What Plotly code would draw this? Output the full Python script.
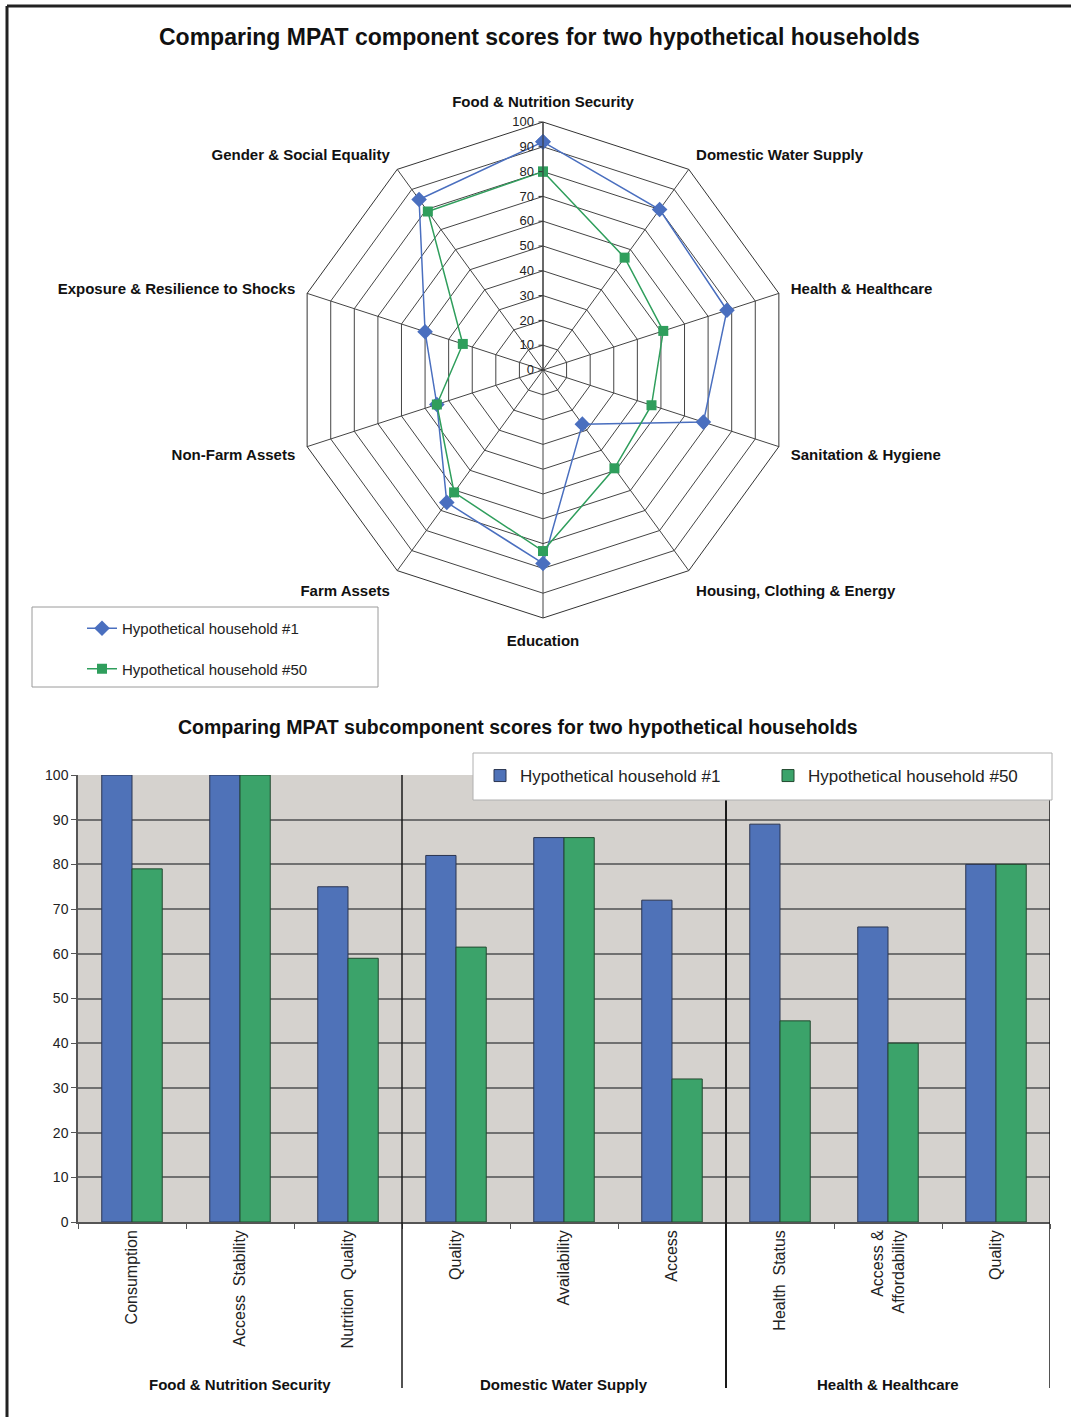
import plotly.graph_objects as go

W, H = 1071, 1417

# ---------------- Data ----------------
radar_axes = ["Food & Nutrition Security", "Domestic Water Supply", "Health & Healthcare",
              "Sanitation & Hygiene", "Housing, Clothing & Energy", "Education",
              "Farm Assets", "Non-Farm Assets", "Exposure & Resilience to Shocks",
              "Gender & Social Equality"]
radar_hh1 = [92, 80, 78, 68, 27, 78, 66, 45, 50, 85]
radar_hh50 = [80, 56, 51, 46, 49, 73, 61, 45, 34, 79]

sub_labels = ["Consumption", "Access  Stability", "Nutrition  Quality",
              "Quality", "Availability", "Access",
              "Health  Status", "Access &<br>Affordability", "Quality"]
bar_hh1 = [100, 100, 75, 82, 86, 72, 89, 66, 80]
bar_hh50 = [79, 100, 59, 61.5, 86, 32, 45, 40, 80]
group_names = ["Food & Nutrition Security", "Domestic Water Supply", "Health & Healthcare"]
group_centers = [1, 4, 7]
group_bounds = [2.5, 5.5, 8.5]
radial_ticks = list(range(0, 101, 10))
y_ticks = list(range(0, 101, 10))

series_names = ["Hypothetical household #1", "Hypothetical household #50"]
BLUE = "#4a6fbf"
GREEN = "#2f9e5c"
BAR_BLUE = "#4f72b8"
BAR_GREEN = "#3ba36a"
FONT = "Liberation Sans, Arial, sans-serif"


def px(x):
    return x / W


def py(y):
    return 1 - y / H


fig = go.Figure()

# ---------------- Radar ----------------
fig.add_trace(go.Scatterpolar(
    r=radar_hh1 + radar_hh1[:1], theta=radar_axes + radar_axes[:1],
    mode="lines+markers", name=series_names[0],
    line=dict(color=BLUE, width=1.5),
    marker=dict(symbol="diamond", size=12, color=BLUE),
    legend="legend", legendgroup="a"))
fig.add_trace(go.Scatterpolar(
    r=radar_hh50 + radar_hh50[:1], theta=radar_axes + radar_axes[:1],
    mode="lines+markers", name=series_names[1],
    line=dict(color=GREEN, width=1.5),
    marker=dict(symbol="square", size=10, color=GREEN),
    legend="legend", legendgroup="b"))

# ---------------- Bars ----------------
xs = list(range(len(sub_labels)))
fig.add_trace(go.Bar(x=xs, y=bar_hh1, name=series_names[0], marker=dict(color=BAR_BLUE, line=dict(color="#2b3550", width=1)),
                     legend="legend2", xaxis="x", yaxis="y"))
fig.add_trace(go.Bar(x=xs, y=bar_hh50, name=series_names[1], marker=dict(color=BAR_GREEN, line=dict(color="#234a30", width=1)),
                     legend="legend2", xaxis="x", yaxis="y"))

shapes = []
# page border (top and left)
shapes.append(dict(type="line", xref="paper", yref="paper", x0=px(7), x1=1.0, y0=py(6), y1=py(6),
                   line=dict(color="#222", width=3)))
shapes.append(dict(type="line", xref="paper", yref="paper", x0=px(7), x1=px(7), y0=py(6), y1=0,
                   line=dict(color="#222", width=3)))
# radar legend box
shapes.append(dict(type="rect", xref="paper", yref="paper", x0=px(32), x1=px(378), y0=py(687), y1=py(607),
                   line=dict(color="#9a9a9a", width=1), fillcolor="white", layer="below"))
# group separators
for i, b in enumerate(group_bounds):
    shapes.append(dict(type="line", xref="x", yref="paper", x0=b, x1=b, y0=py(1388), y1=py(775),
                       line=dict(color="#1a1a1a", width=2 if i == 1 else 1.5), layer="above"))
# bar legend box
shapes.append(dict(type="rect", xref="paper", yref="paper", x0=px(473), x1=px(1052), y0=py(800), y1=py(753),
                   line=dict(color="#b0b0b0", width=1), fillcolor="white", layer="above"))

annotations = [
    dict(text="<b>Comparing MPAT component scores for two hypothetical households</b>", xref="paper", yref="paper",
         x=px(539), y=py(37), yanchor="middle", showarrow=False, font=dict(size=23, color="#111", family=FONT)),
    dict(text="<b>Comparing MPAT subcomponent scores for two hypothetical households</b>", xref="paper", yref="paper",
         x=px(518), y=py(727), yanchor="middle", showarrow=False, font=dict(size=19.5, color="#111", family=FONT)),
]
for name, c in zip(group_names, group_centers):
    annotations.append(dict(text="<b>" + name + "</b>", xref="x", yref="paper", x=c, y=py(1384), yanchor="middle",
                            showarrow=False, font=dict(size=15, color="#111", family=FONT)))

fig.update_layout(
    width=W, height=H,
    margin=dict(l=0, r=0, t=0, b=0, autoexpand=False),
    paper_bgcolor="white",
    font=dict(family=FONT, color="#111"),
    showlegend=True,
    barmode="group", bargap=0.44, bargroupgap=0,
    polar=dict(
        domain=dict(x=[px(295), px(791)], y=[py(618), py(122)]),
        bgcolor="white",
        gridshape="linear",
        angularaxis=dict(rotation=90, direction="clockwise", showline=True, linecolor="#333", linewidth=1,
                         gridcolor="#444", gridwidth=1, ticks="outside", ticklen=9,
                         tickcolor="rgba(0,0,0,0)",
                         tickfont=dict(size=15, family=FONT, color="#111", weight="bold")),
        radialaxis=dict(range=[0, 100], tickvals=radial_ticks, angle=90, tickangle=90,
                        showline=True, linecolor="#333", linewidth=1, gridcolor="#444", gridwidth=1,
                        ticks="outside", ticklen=4, tickcolor="#333", side="counterclockwise",
                        tickfont=dict(size=13, family=FONT, color="#222")),
    ),
    xaxis=dict(domain=[px(78), px(1050)], range=[-0.5, 8.5], tickvals=xs, ticktext=sub_labels,
               tickangle=-90, ticks="", showline=True, linecolor="#555", linewidth=1.5,
               showgrid=False, zeroline=False, automargin=False,
               tickfont=dict(size=16, family=FONT, color="#222"),
               minor=dict(tickmode="array", tickvals=[i - 0.5 for i in range(10)], ticks="outside",
                          ticklen=5, tickcolor="#555", showgrid=False),
               anchor="y"),
    yaxis=dict(domain=[py(1222), py(775)], range=[0, 100], tickvals=y_ticks, ticks="outside", ticklen=5,
               tickcolor="#555", showline=True, linecolor="#555", linewidth=1.5,
               gridcolor="#707070", gridwidth=1.5, zeroline=False, automargin=False,
               tickfont=dict(size=14, family=FONT, color="#222"), anchor="x"),
    plot_bgcolor="#d5d2ce",
    legend=dict(x=px(82), y=py(612), xanchor="left", yanchor="top", orientation="v",
                bgcolor="rgba(0,0,0,0)", borderwidth=0, tracegroupgap=18,
                font=dict(size=15, family=FONT, color="#222")),
    legend2=dict(x=px(480), y=py(776), xanchor="left", yanchor="middle", orientation="h",
                 bgcolor="rgba(0,0,0,0)", borderwidth=0, entrywidth=243, entrywidthmode="pixels",
                 itemwidth=30,
                 font=dict(size=17, family=FONT, color="#222")),
    shapes=shapes,
    annotations=annotations,
)

fig.write_html("out.html")
